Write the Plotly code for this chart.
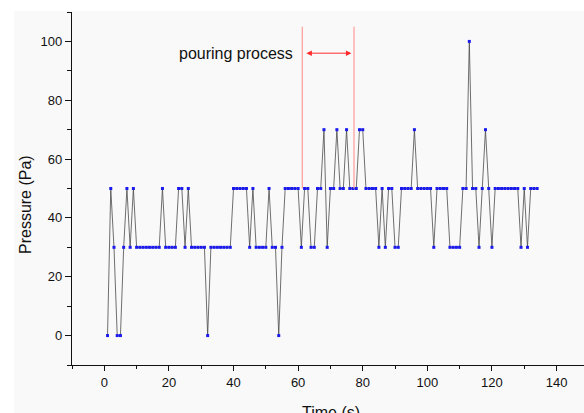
import plotly.graph_objects as go

# Sampling times (s)
time_s = [
    1, 2, 3, 4, 5, 6, 7, 8, 9, 10,
    11, 12, 13, 14, 15, 16, 17, 18, 19, 20,
    21, 22, 23, 24, 25, 26, 27, 28, 29, 30,
    31, 32, 33, 34, 35, 36, 37, 38, 39, 40,
    41, 42, 43, 44, 45, 46, 47, 48, 49, 50,
    51, 52, 53, 54, 55, 56, 57, 58, 59, 60,
    61, 62, 63, 64, 65, 66, 67, 68, 69, 70,
    71, 72, 73, 74, 75, 76, 77, 78, 79, 80,
    81, 82, 83, 84, 85, 86, 87, 88, 89, 90,
    91, 92, 93, 94, 95, 96, 97, 98, 99, 100,
    101, 102, 103, 104, 105, 106, 107, 108, 109, 110,
    111, 112, 113, 114, 115, 116, 117, 118, 119, 120,
    121, 122, 123, 124, 125, 126, 127, 128, 129, 130,
    131, 132, 133, 134,
]

# Measured pressure (Pa)
pressure_pa = [
    0, 50, 30, 0, 0, 30, 50, 30, 50, 30,
    30, 30, 30, 30, 30, 30, 30, 50, 30, 30,
    30, 30, 50, 50, 30, 50, 30, 30, 30, 30,
    30, 0, 30, 30, 30, 30, 30, 30, 30, 50,
    50, 50, 50, 50, 30, 50, 30, 30, 30, 30,
    50, 30, 30, 0, 30, 50, 50, 50, 50, 50,
    30, 50, 50, 30, 30, 50, 50, 70, 30, 50,
    50, 70, 50, 50, 70, 50, 50, 50, 70, 70,
    50, 50, 50, 50, 30, 50, 30, 50, 50, 30,
    30, 50, 50, 50, 50, 70, 50, 50, 50, 50,
    50, 30, 50, 50, 50, 50, 30, 30, 30, 30,
    50, 50, 100, 50, 50, 30, 50, 70, 50, 30,
    50, 50, 50, 50, 50, 50, 50, 50, 30, 50,
    30, 50, 50, 50,
]

# Pouring process window (s) and marker heights (Pa)
pour_start = 61.3
pour_end = 77.3
pour_line_low = 50
pour_line_high = 105
pour_arrow_y = 96
pour_label = "pouring process"

W, H = 584, 413
ML, MR, MT, MB = 72, 0, 12, 48
PW, PH = W - ML - MR, H - MT - MB

FONT = "Arial, Liberation Sans, sans-serif"

fig = go.Figure()

fig.add_trace(go.Scatter(
    x=time_s, y=pressure_pa,
    mode="lines+markers",
    line=dict(color="#4a4a4a", width=0.8),
    marker=dict(symbol="square", size=3, color="#1a1aee", line=dict(width=0)),
    showlegend=False,
    hoverinfo="x+y",
))

# light grey panel behind the chart
fig.add_shape(
    type="rect", xref="paper", yref="paper", layer="below",
    x0=(14 - ML) / PW, x1=1.0 + 5 / PW,
    y0=-MB / PH, y1=1 + 1 / PH,
    fillcolor="#f9f9f9", line=dict(width=0),
)

# pouring process boundaries
for xv in (pour_start, pour_end):
    fig.add_shape(
        type="line", xref="x", yref="y",
        x0=xv, x1=xv, y0=pour_line_low, y1=pour_line_high,
        line=dict(color="#ff9a9a", width=1.2),
    )

# double-headed arrow between the boundaries
fig.add_annotation(
    x=pour_end - 0.8, y=pour_arrow_y, ax=pour_start + 0.8, ay=pour_arrow_y,
    xref="x", yref="y", axref="x", ayref="y",
    text="", showarrow=True, arrowhead=2, startarrowhead=2,
    arrowside="end+start", arrowsize=1.1, startarrowsize=1.1,
    arrowwidth=1, arrowcolor="#ff2a2a",
)

fig.add_annotation(
    x=pour_start - 2.3, y=pour_arrow_y, xref="x", yref="y",
    text=pour_label, showarrow=False, xanchor="right", yanchor="middle",
    font=dict(family=FONT, size=16, color="#111111"),
)

# axis titles
fig.add_annotation(
    x=(25 - ML) / PW, y=(365 - 205) / PH,
    xref="paper", yref="paper", text="Pressure (Pa)", textangle=-90,
    showarrow=False, xanchor="center", yanchor="middle",
    font=dict(family=FONT, size=16, color="#111111"),
)
fig.add_annotation(
    x=(331 - ML) / PW, y=-(402 - 365) / PH,
    xref="paper", yref="paper", text="Time (s)",
    showarrow=False, xanchor="center", yanchor="top",
    font=dict(family=FONT, size=16, color="#111111"),
)

tick_font = dict(family=FONT, size=13, color="#111111")

fig.update_xaxes(
    range=[-10, 148.5], tick0=0, dtick=20,
    showline=True, linecolor="#111111", linewidth=1.2, mirror=False,
    ticks="outside", ticklen=5, tickwidth=1, tickcolor="#111111",
    minor=dict(ticks="outside", ticklen=3, tickwidth=1, tickcolor="#111111", dtick=10, tick0=0),
    showgrid=False, zeroline=False, tickfont=tick_font,
)
fig.update_yaxes(
    range=[-10, 110], tick0=0, dtick=20,
    showline=True, linecolor="#111111", linewidth=1.2, mirror=False,
    ticks="outside", ticklen=6, tickwidth=1, tickcolor="#111111",
    minor=dict(ticks="outside", ticklen=4, tickwidth=1, tickcolor="#111111", dtick=10, tick0=0),
    showgrid=False, zeroline=False, tickfont=tick_font,
)

fig.update_layout(
    width=W, height=H, autosize=False,
    margin=dict(l=ML, r=MR, t=MT, b=MB, pad=0),
    paper_bgcolor="#ffffff", plot_bgcolor="rgba(0,0,0,0)",
)

fig.write_html("out.html")
